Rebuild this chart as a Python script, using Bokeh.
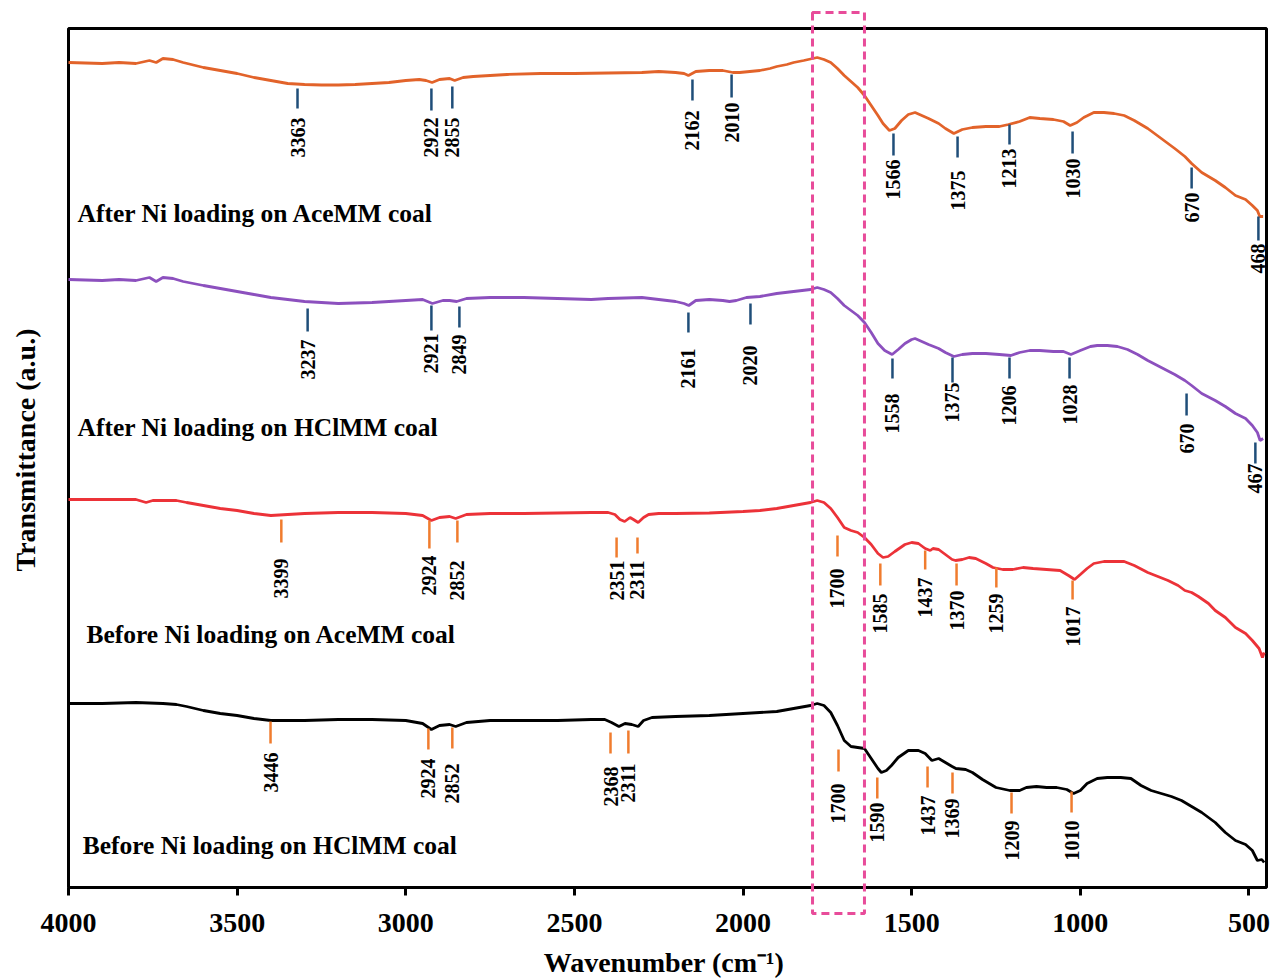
import math
from bokeh.plotting import figure
from bokeh.models import Range1d, FixedTicker, BoxAnnotation
from bokeh.embed import file_html
from bokeh.resources import INLINE
from bokeh.core.properties import value

# ---------------- spectra (wavenumber, transmittance a.u.) ----------------
wn_after_ace = [4000, 3900, 3850, 3800, 3760, 3740, 3720, 3690, 3660, 3600, 3550, 3500, 3450, 3400,
                3350, 3300, 3250, 3200, 3150, 3100, 3050, 3000, 2960, 2940, 2922, 2900, 2870, 2855,
                2830, 2800, 2750, 2700, 2600, 2500, 2400, 2300, 2250, 2200, 2175, 2162, 2140, 2100,
                2060, 2030, 2010, 1980, 1950, 1920, 1900, 1870, 1850, 1820, 1800, 1780, 1760, 1740,
                1720, 1700, 1680, 1660, 1640, 1620, 1600, 1585, 1566, 1550, 1530, 1510, 1490, 1470,
                1450, 1420, 1400, 1375, 1350, 1320, 1280, 1240, 1213, 1180, 1150, 1120, 1080, 1050,
                1030, 1010, 990, 960, 930, 900, 870, 840, 800, 760, 720, 690, 670, 640, 600, 570,
                540, 510, 490, 475, 468, 458]
t_after_ace = [825, 824, 825, 824, 827, 825, 829, 828, 825, 820, 817, 814, 810, 807,
               804, 803, 802.5, 802.5, 803, 804, 805, 807, 808, 807, 805, 808, 809, 807,
               810, 811, 812, 813, 814, 814, 814.5, 815, 816, 815, 814, 812, 816, 817,
               817, 815, 815, 816, 817, 819, 821, 823, 825, 827, 828.5, 830, 828, 825,
               819, 812, 806, 800, 792, 782, 772, 764, 757, 759, 767, 773, 775, 772,
               769, 764, 759, 754, 758, 760, 761, 761, 763, 766, 770, 769, 768, 766,
               762, 765, 770, 775, 775, 774, 772, 767, 759, 749, 739, 731, 724, 715, 707, 700,
               692, 688, 682, 677, 671, 671]

wn_after_hcl = [4000, 3900, 3850, 3800, 3760, 3740, 3720, 3690, 3660, 3600, 3550, 3500, 3450, 3400,
                3350, 3300, 3250, 3200, 3150, 3100, 3050, 3000, 2950, 2921, 2890, 2870, 2849, 2820,
                2750, 2650, 2550, 2450, 2400, 2300, 2250, 2200, 2175, 2161, 2140, 2100, 2060, 2040,
                2020, 1990, 1950, 1900, 1850, 1800, 1780, 1760, 1740, 1720, 1700, 1680, 1660, 1640,
                1620, 1600, 1580, 1558, 1540, 1520, 1500, 1490, 1470, 1450, 1420, 1400, 1375, 1350,
                1320, 1280, 1240, 1206, 1180, 1150, 1120, 1080, 1050, 1028, 1000, 970, 950, 920,
                890, 860, 830, 800, 760, 720, 690, 670, 640, 600, 570, 540, 510, 490, 475, 467, 458]
t_after_hcl = [608, 607, 608, 607, 610, 606, 610, 609, 606, 602, 599, 596, 593, 590,
               588, 586, 585, 584, 584.5, 585, 586, 587, 588, 584, 587, 587, 586, 589,
               590, 590, 589, 588, 589, 590, 588, 586, 584, 582, 587, 588, 587, 586,
               587, 590, 591, 594, 596, 598, 600, 598, 595, 589, 582, 577, 572, 565,
               555, 544, 537, 533, 538, 544, 548, 549, 546, 543, 539, 535, 531, 533,
               534, 534, 533, 532, 535, 537, 537, 536, 536, 533, 537, 541, 542, 542,
               541, 538, 533, 527, 520, 513, 507, 502, 494, 487, 481, 474, 469, 462, 455, 447, 449]

wn_before_ace = [4000, 3900, 3800, 3770, 3750, 3720, 3680, 3650, 3600, 3550, 3500, 3450, 3400, 3350,
                 3300, 3200, 3100, 3000, 2950, 2924, 2900, 2870, 2852, 2820, 2750, 2650, 2550, 2450,
                 2400, 2380, 2365, 2351, 2335, 2325, 2311, 2295, 2280, 2250, 2200, 2100, 2000, 1950,
                 1900, 1850, 1800, 1780, 1760, 1740, 1720, 1700, 1680, 1660, 1640, 1620, 1600, 1585,
                 1570, 1550, 1520, 1500, 1480, 1460, 1445, 1437, 1420, 1400, 1380, 1370, 1350, 1330,
                 1310, 1280, 1259, 1230, 1200, 1170, 1140, 1100, 1060, 1035, 1017, 1000, 980, 960,
                 930, 900, 870, 840, 800, 770, 740, 710, 690, 670, 650, 620, 600, 570, 540, 510,
                 490, 470, 460, 455]
t_before_ace = [388, 388, 388, 385, 387, 387, 387, 385, 382, 379, 377, 374, 372, 373,
                374, 375, 375, 374, 372, 367, 370, 371, 369, 373, 374, 374, 374.5, 375,
                375, 373, 368, 366, 370, 368, 365, 370, 373, 374, 374, 374.5, 376, 377,
                379, 382, 385, 387, 385, 379, 370, 360, 357, 355, 350, 343, 334, 330,
                331, 336, 343, 345, 344, 339, 337, 339, 338, 333, 328, 327, 328, 330,
                329, 324, 320, 318, 318, 320, 319, 318, 317, 312, 308, 313, 319, 324,
                326, 326, 326, 322, 315, 311, 307, 302, 297, 295, 291, 284, 277, 270, 260, 254,
                247, 239, 230, 235]

wn_before_hcl = [4000, 3900, 3800, 3720, 3680, 3650, 3600, 3550, 3500, 3450, 3400, 3300, 3200, 3100,
                 3000, 2950, 2924, 2900, 2870, 2852, 2820, 2750, 2650, 2550, 2450, 2410, 2390, 2368,
                 2350, 2330, 2311, 2295, 2270, 2200, 2100, 2000, 1900, 1850, 1800, 1780, 1760, 1740,
                 1720, 1700, 1680, 1660, 1640, 1620, 1600, 1590, 1575, 1560, 1540, 1510, 1480, 1460,
                 1440, 1420, 1400, 1380, 1369, 1340, 1320, 1290, 1250, 1209, 1180, 1160, 1130, 1100,
                 1070, 1040, 1020, 1000, 980, 950, 920, 880, 850, 820, 790, 760, 730, 700, 670, 640,
                 600, 570, 540, 510, 490, 475, 462, 455]
t_before_hcl = [184, 184, 185, 184, 183, 181, 177, 174, 172, 169, 167, 167, 168, 168,
                167, 164, 158, 162, 163, 161, 165, 167, 167, 167, 168, 168, 165, 161,
                164, 163, 161, 167, 170, 171, 172, 174, 176, 179, 182, 184, 182, 175,
                162, 147, 141, 140, 139, 129, 119, 115, 117, 122, 130, 137, 137, 134,
                127, 129, 125, 121, 119, 118, 115, 108, 100, 97, 97, 100, 101, 100,
                100, 98, 94, 97, 104, 109, 110, 110, 109, 102, 97, 94, 91, 87, 81, 75,
                65, 55, 47, 43, 37, 27, 28, 25]

# ---------------- peak annotations ----------------
pk_after_ace_lab = ["3363", "2922", "2855", "2162", "2010", "1566", "1375", "1213", "1030", "670", "468"]
pk_after_ace_wn = [3321, 2924, 2862, 2150, 2034, 1554, 1364, 1210, 1023, 670, 472]
pk_after_ace_top = [799, 799, 801, 808, 813, 754, 751, 763, 756, 720, 671]
pk_after_ace_bot = [779, 777, 779, 787, 790, 732, 730, 743, 734, 699, 647]
pk_after_ace_txt = [770, 770, 770, 777, 785, 728, 717, 739, 729, 695, 644]

pk_after_hcl_lab = ["3237", "2921", "2849", "2161", "2020", "1558", "1375", "1206", "1028", "670", "467"]
pk_after_hcl_wn = [3291, 2924, 2841, 2162, 1978, 1557, 1379, 1210, 1032, 685, 481]
pk_after_hcl_top = [579, 582, 581, 575, 584, 529, 530, 530, 530, 494, 445]
pk_after_hcl_bot = [556, 557, 560, 555, 563, 509, 505, 509, 509, 472, 424]
pk_after_hcl_txt = [548, 554, 553, 539, 542, 494, 505, 502, 503, 464, 424]

pk_before_ace_lab = ["3399", "2924", "2852", "2351", "2311", "1700", "1585", "1437", "1370", "1259", "1017"]
pk_before_ace_wn = [3369, 2930, 2847, 2375, 2313, 1720, 1593, 1460, 1367, 1249, 1023]
pk_before_ace_top = [368, 367, 367, 350, 350, 352, 324, 337, 324, 320, 307]
pk_before_ace_bot = [345, 339, 345, 330, 334, 331, 302, 318, 302, 300, 288]
pk_before_ace_txt = [329, 332, 327, 327, 327, 319, 294, 310, 297, 294, 281]

pk_before_hcl_lab = ["3446", "2924", "2852", "2368", "2311", "1700", "1590", "1437", "1369", "1209", "1010"]
pk_before_hcl_wn = [3401, 2933, 2862, 2393, 2340, 1717, 1602, 1453, 1379, 1204, 1026]
pk_before_hcl_top = [166, 159, 160, 155, 157, 138, 110, 121, 115, 95, 96]
pk_before_hcl_bot = [144, 138, 139, 134, 134, 116, 89, 100, 94, 74, 75]
pk_before_hcl_txt = [135, 129, 124, 121, 124, 104, 85, 92, 89, 67, 67]

series_names = ["After Ni loading on AceMM coal", "After Ni loading on HClMM coal",
                "Before Ni loading on AceMM coal", "Before Ni loading on HClMM coal"]
name_wn = [3973, 3973, 3947, 3958]
name_t = [674, 460, 253, 42]

x_ticks = [4000, 3500, 3000, 2500, 2000, 1500, 1000, 500]
x_lim = [4000, 448]
t_lim = [0, 859]
box_wn = [1794, 1640]
box_t = [875, -26]

# ---------------- figure ----------------
# The plotting frame covers the whole canvas (so the highlight box can overhang the
# axes); axes are pinned with fixed_location and the plot border is a BoxAnnotation.
W, H = 1277, 978
PAD_L, PAD_R, PAD_T, PAD_B = 68, 11, 28, 91
kx = (W - PAD_L - PAD_R) / (x_lim[0] - x_lim[1])
ky = (H - PAD_T - PAD_B) / (t_lim[1] - t_lim[0])
x_range = Range1d(x_lim[0] + PAD_L / kx, x_lim[1] - PAD_R / kx)
y_range = Range1d(t_lim[0] - PAD_B / ky, t_lim[1] + PAD_T / ky)

SERIF = "Liberation Serif"
p = figure(width=W, height=H, output_backend="svg", toolbar_location=None,
           x_range=x_range, y_range=y_range,
           min_border_left=0, min_border_right=0, min_border_top=0, min_border_bottom=0)
p.xgrid.visible = False
p.ygrid.visible = False
p.outline_line_color = None
p.background_fill_color = "white"
p.border_fill_color = "white"

xa = p.xaxis[0]
xa.fixed_location = t_lim[0]
xa.bounds = (x_lim[0], x_lim[1])
xa.ticker = FixedTicker(ticks=x_ticks)
xa.axis_line_color = None
xa.major_tick_line_width = 3
xa.major_tick_line_color = "black"
xa.major_tick_in = 0
xa.major_tick_out = 8
xa.minor_tick_line_color = None
xa.major_label_text_font = SERIF
xa.major_label_text_font_style = "bold"
xa.major_label_text_font_size = "28px"
xa.major_label_text_color = "black"
xa.major_label_standoff = 18
xa.axis_label = "Wavenumber  (cm\u207b\u00b9)"
xa.axis_label_text_font = SERIF
xa.axis_label_text_font_style = "bold"
xa.axis_label_text_font_size = "28px"
xa.axis_label_text_color = "black"
xa.axis_label_standoff = 12

ya = p.yaxis[0]
ya.fixed_location = x_lim[0]
ya.bounds = (23, t_lim[1])
ya.ticker = FixedTicker(ticks=[])
ya.axis_line_color = None
ya.major_tick_out = 0
ya.major_tick_in = 0
ya.minor_tick_line_color = None
ya.axis_label = "Transmittance  (a.u.)"
ya.axis_label_text_font = SERIF
ya.axis_label_text_font_style = "bold"
ya.axis_label_text_font_size = "28px"
ya.axis_label_text_color = "black"
ya.axis_label_standoff = 28

# plot border
p.add_layout(BoxAnnotation(left=x_lim[0], right=x_lim[1], bottom=t_lim[0], top=t_lim[1],
                           fill_color=None, fill_alpha=0, line_color="black", line_alpha=1.0,
                           line_width=3, level="underlay"))

curves = [(wn_after_ace, t_after_ace, "#E2632A"),
          (wn_after_hcl, t_after_hcl, "#8C50BE"),
          (wn_before_ace, t_before_ace, "#EC3238"),
          (wn_before_hcl, t_before_hcl, "#000000")]
for xs, ys, c in curves:
    p.line(xs, ys, line_color=c, line_width=2.8)

peaks = [(pk_after_ace_lab, pk_after_ace_wn, pk_after_ace_top, pk_after_ace_bot, pk_after_ace_txt, "#1F4E79"),
         (pk_after_hcl_lab, pk_after_hcl_wn, pk_after_hcl_top, pk_after_hcl_bot, pk_after_hcl_txt, "#1F4E79"),
         (pk_before_ace_lab, pk_before_ace_wn, pk_before_ace_top, pk_before_ace_bot, pk_before_ace_txt, "#F07C2E"),
         (pk_before_hcl_lab, pk_before_hcl_wn, pk_before_hcl_top, pk_before_hcl_bot, pk_before_hcl_txt, "#F07C2E")]
for lab, wn, top, bot, txt, c in peaks:
    p.segment(x0=wn, y0=top, x1=wn, y1=bot, line_color=c, line_width=2.5)
    p.text(x=wn, y=txt, text=lab, angle=math.pi / 2, text_align="right", text_baseline="middle",
           text_font=value(SERIF), text_font_style="bold", text_font_size="20px", text_color="black")

p.text(x=name_wn, y=name_t, text=series_names, text_align="left", text_baseline="middle",
       text_font=value(SERIF), text_font_style="bold", text_font_size="25.5px", text_color="black")

# dashed highlight box around the ~1700 cm-1 region
p.add_layout(BoxAnnotation(left=box_wn[0], right=box_wn[1], bottom=box_t[1], top=box_t[0],
                           fill_color=None, fill_alpha=0, line_color="#E84C9A", line_alpha=1.0,
                           line_width=3, line_dash="8 5"))

open("out.html", "w").write(file_html(p, INLINE))
